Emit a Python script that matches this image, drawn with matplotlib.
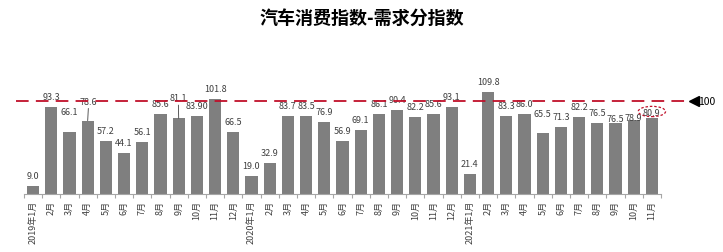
import numpy as np
import matplotlib
matplotlib.use("Agg")
import matplotlib.pyplot as plt
from matplotlib.patches import Ellipse

plt.rcParams["font.family"] = ["Noto Sans CJK SC", "DejaVu Sans"]

# ---- data ----
months_2019 = ["2019年1月"] + [f"{m}月" for m in range(2, 13)]
months_2020 = ["2020年1月"] + [f"{m}月" for m in range(2, 13)]
months_2021 = ["2021年1月"] + [f"{m}月" for m in range(2, 12)]
labels = months_2019 + months_2020 + months_2021

vals_2019 = [9.0, 93.3, 66.1, 78.6, 57.2, 44.1, 56.1, 85.6, 81.1, 83.90, 101.8, 66.5]
vals_2020 = [19.0, 32.9, 83.7, 83.5, 76.9, 56.9, 69.1, 86.1, 90.4, 82.2, 85.6, 93.1]
vals_2021 = [21.4, 109.8, 83.3, 86.0, 65.5, 71.3, 82.2, 76.5, 76.5, 78.9, 80.9]
values = vals_2019 + vals_2020 + vals_2021
val_text = [f"{v:.1f}" for v in values]
val_text[9] = "83.90"
baseline = 100

BAR = "#7F7F7F"; INK = "#404040"; RED = "#C0102A"

fig = plt.figure(figsize=(7.23, 2.53), dpi=100)
ax = fig.add_axes([24 / 723, 58 / 253, 637 / 723, 112 / 253])
x = np.arange(len(values))
ax.bar(x, values, width=0.66, color=BAR, zorder=2)
ax.set_xlim(-0.5, len(values) - 0.5)
ax.set_ylim(0, 120)

for s in ["top", "right", "left"]:
    ax.spines[s].set_visible(False)
ax.spines["bottom"].set_color("#A6A6A6")
ax.spines["bottom"].set_linewidth(0.8)
ax.set_yticks([])
ax.set_xticks(x)
ax.set_xticklabels(labels, rotation=90, fontsize=6.5, color=INK)
ax.tick_params(axis="x", length=0, pad=4)
ax.set_xticks(np.arange(-0.5, len(values)), minor=True)
ax.tick_params(axis="x", which="minor", length=3, color="#A6A6A6", width=0.8)

# value labels (pixel offsets above bar top)
extra = {2: 10, 4: 0, 28: 9, 32: -6, 33: -8, 34: -5}
leader = {3: (1.0, 9), 8: (-0.5, 10)}
for i, (v, t) in enumerate(zip(values, val_text)):
    if i in leader:
        dx, up = leader[i]
        ax.annotate(t, (i, v), xytext=(dx, 6 + up), textcoords="offset pixels",
                    ha="center", va="bottom", fontsize=6.5, color=INK,
                    arrowprops=dict(arrowstyle="-", color=INK, lw=0.6,
                                    shrinkA=0, shrinkB=0))
    else:
        ax.annotate(t, (i, v), xytext=(0, 6 + extra.get(i, 0)),
                    textcoords="offset pixels", ha="center", va="bottom",
                    fontsize=6.5, color=INK)

# reference line at 100
ax.plot([-0.94, 35.95], [baseline, baseline], color=RED, lw=1.3,
        dashes=(7, 4), clip_on=False, zorder=3)
ax.plot([36.3], [baseline], marker="<", color="black", ms=7, clip_on=False)
ax.text(36.55, baseline, str(baseline), fontsize=7.5, va="center", ha="left",
        color="black", clip_on=False)

# highlight last value
last = len(values) - 1
ax.add_patch(Ellipse((last, values[last] + 7.5), 1.5, 11, fill=False,
                     ec=RED, lw=0.9, ls=(0, (2, 1.5)), clip_on=False, zorder=4))

fig.suptitle("汽车消费指数-需求分指数", fontsize=13, fontweight="bold", y=0.965)
fig.savefig("out.png", dpi=100, facecolor="white")
